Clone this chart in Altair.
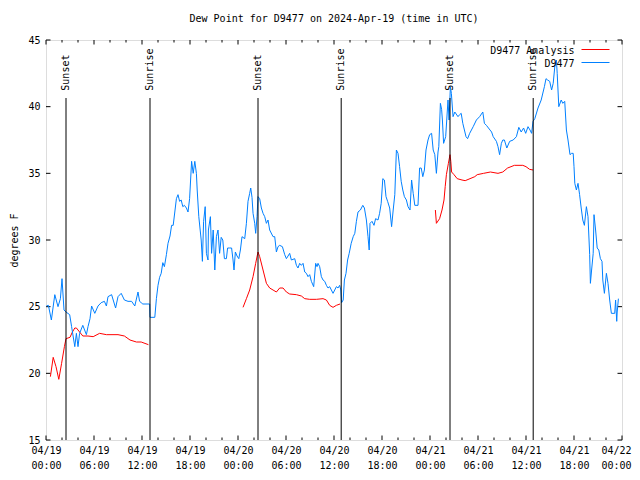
import altair as alt
import pandas as pd

# ---------------- data (hours after 2024-04-19 00:00 UTC, dew point in F) ----------------
obs_hours = [0.05, 0.3, 0.67, 1.1, 1.5, 1.8, 2.0, 2.25, 2.5, 2.96, 3.2, 3.6, 3.8, 4.0, 4.2, 4.6,
             5.05, 5.25, 5.5, 5.7, 6.1, 6.5, 6.9, 7.3, 7.55, 7.75, 8.2, 8.4, 8.7, 9.0, 9.4, 9.8,
             10.25, 10.7, 11.1, 11.5, 11.7, 11.9, 12.1, 12.96, 13.0, 13.6, 13.8, 14.0, 14.2, 14.4,
             14.6, 14.8, 15.05, 15.25, 15.5, 15.7, 15.9, 16.1, 16.3, 16.5, 16.7, 16.9, 17.1, 17.3,
             17.55, 17.75, 17.95, 18.2, 18.4, 18.6, 18.8, 18.9, 19.1, 19.4, 19.55, 19.7, 19.9,
             20.05, 20.25, 20.3, 20.55, 20.7, 20.9, 21.1, 21.3, 21.5, 21.7, 21.9, 22.1, 22.3,
             22.55, 22.7, 22.96, 23.2, 23.38, 23.5, 23.67, 23.88, 24.1, 24.3, 24.5, 24.84, 25.05,
             25.25, 25.46, 25.59, 25.75, 25.88, 26.09, 26.21, 26.38, 26.5, 26.71, 26.92, 27.13,
             27.34, 27.55, 27.75, 27.96, 28.38, 28.59, 28.8, 29.0, 29.21, 29.55, 29.84, 30.05,
             30.46, 30.67, 31.09, 31.3, 31.5, 31.71, 31.92, 32.13, 32.34, 32.55, 32.75, 32.96,
             33.17, 33.46, 33.71, 33.88, 34.0, 34.21, 34.42, 34.63, 34.84, 35.05, 35.25, 35.46,
             35.67, 35.88, 36.09, 36.3, 36.5, 36.71, 36.85, 36.95, 37.15, 37.3, 37.5, 37.7, 37.9,
             38.15, 38.4, 38.6, 38.8, 39.0, 39.3, 39.6, 39.8, 40.05, 40.25, 40.4, 40.5, 40.75,
             41.0, 41.2, 41.5, 41.7, 41.9, 42.1, 42.3, 42.5, 42.7, 42.96, 43.2, 43.4, 43.6, 43.8,
             44.0, 44.2, 44.4, 44.6, 44.8, 45.05, 45.25, 45.5, 45.7, 45.9, 46.1, 46.5, 46.7, 46.9,
             47.1, 47.3, 47.5, 47.75, 47.96, 48.2, 48.4, 48.6, 48.8, 49.0, 49.1, 49.3, 49.45,
             49.55, 49.7, 49.96, 50.25, 50.38, 50.55, 50.67, 50.88, 51.1, 51.5, 51.7, 51.9, 52.1,
             52.5, 52.7, 52.96, 53.4, 53.8, 54.2, 54.6, 54.8, 55.05, 55.5, 55.7, 55.9, 56.3, 56.5,
             56.7, 56.92, 57.1, 57.3, 57.6, 57.96, 58.4, 58.8, 59.1, 59.4, 59.7, 59.96, 60.25,
             60.5, 60.7, 60.88, 61.1, 61.5, 61.9, 62.3, 62.5, 62.7, 62.96, 63.2, 63.4, 63.6, 63.8,
             63.9, 64.1, 64.4, 64.6, 64.84, 65.05, 65.25, 65.5, 65.7, 65.9, 66.0, 66.1, 66.3, 66.5,
             66.7, 66.9, 67.1, 67.3, 67.55, 67.75, 67.96, 68.05, 68.2, 68.4, 68.5, 68.7, 68.9,
             69.1, 69.3, 69.5, 69.6, 69.8, 70.05, 70.25, 70.46, 70.67, 71.09, 71.2, 71.34, 71.4,
             71.55]
obs_values = [25.05, 25.1, 24.0, 25.9, 25.0, 25.6, 27.1, 24.75, 24.6, 24.4, 23.5, 22.0, 23.0, 22.0,
              23.0, 23.6, 22.9, 23.5, 24.1, 25.05, 24.5, 25.05, 25.3, 25.4, 25.05, 25.75, 25.9,
              25.5, 24.9, 25.75, 26.0, 25.5, 25.4, 25.4, 25.05, 26.1, 25.4, 25.3, 25.2, 25.2, 24.2,
              24.2, 25.6, 26.6, 27.2, 27.5, 28.3, 28.0, 28.9, 29.75, 30.3, 31.1, 31.1, 32.1, 33.1,
              33.4, 32.9, 33.0, 32.5, 32.6, 32.4, 32.1, 33.1, 35.9, 35.0, 35.9, 35.0, 33.75, 31.75,
              30.0, 28.4, 31.4, 32.5, 29.0, 28.5, 30.75, 31.75, 29.0, 30.75, 27.75, 30.25, 30.75,
              29.0, 30.2, 30.0, 28.6, 28.6, 29.4, 29.4, 29.4, 28.5, 27.75, 29.1, 28.8, 28.6, 29.25,
              30.25, 30.1, 31.25, 32.9, 33.5, 33.9, 33.2, 32.0, 31.25, 30.5, 31.75, 33.25, 33.1,
              32.4, 32.0, 31.75, 31.25, 31.5, 30.75, 30.25, 30.25, 29.1, 29.5, 29.6, 29.5, 28.9,
              28.6, 29.0, 28.5, 28.6, 28.1, 27.9, 28.25, 28.1, 28.25, 27.6, 27.5, 27.25, 27.4, 26.9,
              26.5, 28.25, 28.0, 28.25, 28.0, 27.25, 27.0, 26.9, 26.6, 26.4, 26.5, 26.25, 26.0,
              26.25, 26.5, 26.4, 26.6, 26.25, 25.3, 25.5, 27.0, 27.5, 28.5, 29.0, 29.75, 30.25,
              30.5, 31.4, 32.1, 32.25, 32.6, 32.4, 31.5, 30.25, 29.25, 31.25, 31.4, 31.1, 31.6,
              31.5, 32.0, 32.75, 34.6, 34.5, 33.25, 32.9, 32.4, 31.0, 32.25, 33.4, 36.75, 36.5,
              35.5, 34.4, 33.75, 33.25, 33.0, 32.5, 32.25, 34.5, 33.5, 32.6, 32.6, 35.4, 35.4,
              34.75, 35.25, 36.75, 37.5, 37.9, 38.0, 36.75, 36.4, 35.0, 36.6, 37.0, 40.25, 39.8,
              39.0, 37.25, 37.75, 40.5, 39.0, 41.5, 41.0, 39.25, 39.6, 39.25, 39.4, 39.5, 38.75,
              37.75, 37.6, 38.0, 38.5, 39.0, 39.25, 39.6, 38.75, 38.6, 38.25, 38.1, 37.75, 37.4,
              37.0, 36.4, 37.25, 37.5, 37.5, 36.9, 37.4, 37.5, 37.75, 38.45, 38.1, 38.4, 38.0, 38.5,
              38.25, 38.0, 38.9, 39.1, 39.9, 40.5, 41.5, 42.1, 42.0, 41.9, 41.25, 41.75, 43.0, 43.5,
              42.5, 40.0, 40.5, 40.25, 40.4, 38.25, 37.5, 36.4, 36.5, 36.5, 35.5, 34.25, 33.75,
              34.25, 33.4, 32.4, 31.5, 31.1, 32.5, 31.75, 28.9, 26.75, 27.75, 29.0, 31.9, 30.75,
              29.4, 29.25, 28.6, 28.4, 27.0, 26.0, 27.5, 26.75, 25.5, 24.5, 24.5, 25.5, 23.9, 24.6,
              25.6]

ana_hours = [0.55, 0.9, 1.25, 1.6, 1.95, 2.3, 2.5, 3.0, 3.3, 3.6, 3.8, 4.2, 4.6, 5.25, 5.9, 6.7,
             7.55, 9.0, 9.8, 10.5, 11.3, 11.9, 12.8,
             24.63, 25.05, 25.46, 25.88, 26.21, 26.5, 26.71, 27.13, 27.55, 27.96, 28.38, 28.8,
             29.21, 29.63, 30.05, 30.46, 31.3, 31.92, 32.34, 32.96, 33.8, 34.63, 35.05, 35.46,
             35.88, 36.3, 36.75,
             48.67, 48.8, 49.2, 49.5, 49.75, 49.9, 50.05, 50.3, 50.5, 50.6, 50.7, 51.0, 51.4, 52.0,
             52.4, 53.0, 53.6, 53.9, 54.7, 55.55, 56.5, 57.1, 57.7, 58.55, 59.6, 60.0, 60.45, 60.88]
ana_values = [19.75, 21.2, 20.5, 19.55, 20.75, 22.0, 22.6, 22.7, 23.1, 23.4, 23.4, 23.1, 22.8,
              22.8, 22.75, 23.0, 22.9, 22.9, 22.8, 22.5, 22.35, 22.35, 22.15,
              24.95, 25.6, 26.25, 27.25, 28.25, 29.1, 28.75, 27.75, 26.75, 26.4, 26.25, 26.1,
              26.4, 26.4, 26.1, 25.95, 25.9, 25.8, 25.6, 25.55, 25.55, 25.6, 25.5, 25.1, 24.95,
              25.1, 25.2,
              32.25, 31.25, 31.6, 32.25, 33.0, 34.0, 34.9, 35.75, 36.4, 35.9, 35.1, 34.9, 34.6,
              34.5, 34.45, 34.6, 34.75, 34.9, 35.0, 35.1, 35.0, 35.1, 35.4, 35.6, 35.6, 35.5, 35.3,
              35.25]

series_names = ["D9477 Analysis", "D9477"]
series_colors = ["#ff0000", "#0080ff"]

event_hours = [2.5, 13.0, 26.5, 36.9, 50.5, 60.9]
event_labels = ["Sunset", "Sunrise", "Sunset", "Sunrise", "Sunset", "Sunrise"]

x_tick_hours = list(range(0, 73, 6))
x_minor_hours = [h for h in range(0, 73, 2) if h % 6 != 0]
y_ticks = [15, 20, 25, 30, 35, 40, 45]

title_text = "Dew Point for D9477 on 2024-Apr-19 (time in UTC)"
y_title = "degrees F"

# ---------------- build ----------------
T0 = pd.Timestamp("2024-04-19T00:00:00Z")


def iso(h):
    return (T0 + pd.to_timedelta(h, unit="h")).strftime("%Y-%m-%dT%H:%M:%SZ")


def ms(h):
    return int((T0 + pd.to_timedelta(h, unit="h")).value // 10**6)


def segments(hours, gap=3.0):
    seg, out = 0, []
    for i, h in enumerate(hours):
        if i > 0 and h - hours[i - 1] > gap:
            seg += 1
        out.append(seg)
    return out


df_obs = pd.DataFrame({"t": [iso(h) for h in obs_hours], "v": obs_values,
                       "seg": segments(obs_hours)})
df_ana = pd.DataFrame({"t": [iso(h) for h in ana_hours], "v": ana_values,
                       "seg": segments(ana_hours)})
df_evt = pd.DataFrame({"t": [iso(h) for h in event_hours], "label": event_labels})
df_xmaj = pd.DataFrame({"t": [iso(h) for h in x_tick_hours]})
df_xmin = pd.DataFrame({"t": [iso(h) for h in x_minor_hours]})
df_yt = pd.DataFrame({"v": y_ticks})

FONT = "DejaVu Sans Mono"
W, H = 576, 400
MAJ, MIN = 4.5, 2.5

x_scale = alt.Scale(type="utc", domain=[ms(0), ms(72)], nice=False)
y_scale = alt.Scale(domain=[15, 45], nice=False, zero=False)

last_tick = ms(x_tick_hours[-1])
x_axis = alt.Axis(values=[ms(h) for h in x_tick_hours],
                  labelExpr="[utcFormat(datum.value, '%m/%d'), utcFormat(datum.value, '%H:%M')]",
                  ticks=False, domain=False, grid=False, labelFont=FONT, labelFontSize=10,
                  labelColor="black", labelPadding=5, labelLineHeight=15,
                  labelBaseline="top", labelFlush=False, labelOverlap=False, title=None,
                  labelOffset={"condition": {"test": f"datum.value >= {last_tick}", "value": -6},
                               "value": 0})
y_axis = alt.Axis(values=y_ticks, ticks=False, domain=False, grid=False, labelFont=FONT,
                  labelFontSize=10, labelColor="black", labelPadding=6, labelFlush=False,
                  title=y_title, titleFont=FONT, titleFontSize=10, titleFontWeight="normal",
                  titleColor="black", titleX=-32, titleY=200, titleAngle=270,
                  titleAlign="center", titleBaseline="middle")

X = alt.X("t:T", scale=x_scale, axis=x_axis)
Y = alt.Y("v:Q", scale=y_scale, axis=y_axis)

ana_line = alt.Chart(df_ana).mark_line(color=series_colors[0], strokeWidth=1).encode(
    x=X, y=Y, detail="seg:N")
obs_line = alt.Chart(df_obs).mark_line(color=series_colors[1], strokeWidth=1).encode(
    x=X, y=Y, detail="seg:N")

evt_rules = alt.Chart(df_evt).mark_rule(color="black", strokeWidth=1).encode(
    x=X, y=alt.datum(15), y2=alt.datum(40.65))
evt_text = alt.Chart(df_evt).mark_text(angle=270, align="left", baseline="middle", font=FONT,
                                       fontSize=10, color="black").encode(
    x=X, y=alt.datum(41.2), text="label:N")

# inward tick marks on all four sides (gnuplot style)
tick_layers = []
for d, ln in ((df_xmaj, MAJ), (df_xmin, MIN)):
    tick_layers.append(alt.Chart(d).mark_rule(color="black", strokeWidth=1).encode(
        x=X, y=alt.value(H), y2=alt.value(H - ln)))
    tick_layers.append(alt.Chart(d).mark_rule(color="black", strokeWidth=1).encode(
        x=X, y=alt.value(0), y2=alt.value(ln)))
tick_layers.append(alt.Chart(df_yt).mark_rule(color="black", strokeWidth=1).encode(
    y=Y, x=alt.value(0), x2=alt.value(MAJ)))
tick_layers.append(alt.Chart(df_yt).mark_rule(color="black", strokeWidth=1).encode(
    y=Y, x=alt.value(W), x2=alt.value(W - MAJ)))

# key (top right, text then sample line)
legend_layers = []
for i, (name, col) in enumerate(zip(series_names, series_colors)):
    d = pd.DataFrame({"name": [name]})
    legend_layers.append(alt.Chart(d).mark_text(align="right", baseline="middle", font=FONT,
                                                fontSize=10, color="black").encode(
        x=alt.value(528.5), y=alt.value(10.5 + 13 * i), text="name:N"))
    legend_layers.append(alt.Chart(d).mark_rule(color=col, strokeWidth=1).encode(
        x=alt.value(535.5), x2=alt.value(563.5), y=alt.value(9.5 + 13 * i)))

chart = alt.layer(
    *tick_layers, ana_line, obs_line, evt_rules, evt_text, *legend_layers
).properties(
    width=W, height=H,
    title=alt.TitleParams(title_text, font=FONT, fontSize=10, fontWeight="normal",
                          color="black", anchor="middle", offset=11),
    autosize=alt.AutoSizeParams(type="none"),
    padding={"left": 38, "top": 32, "right": 10, "bottom": 32},
).configure_view(stroke="black", strokeWidth=1).configure(background="white")

chart.save("out.html", embed_options={"renderer": "svg", "actions": False})
